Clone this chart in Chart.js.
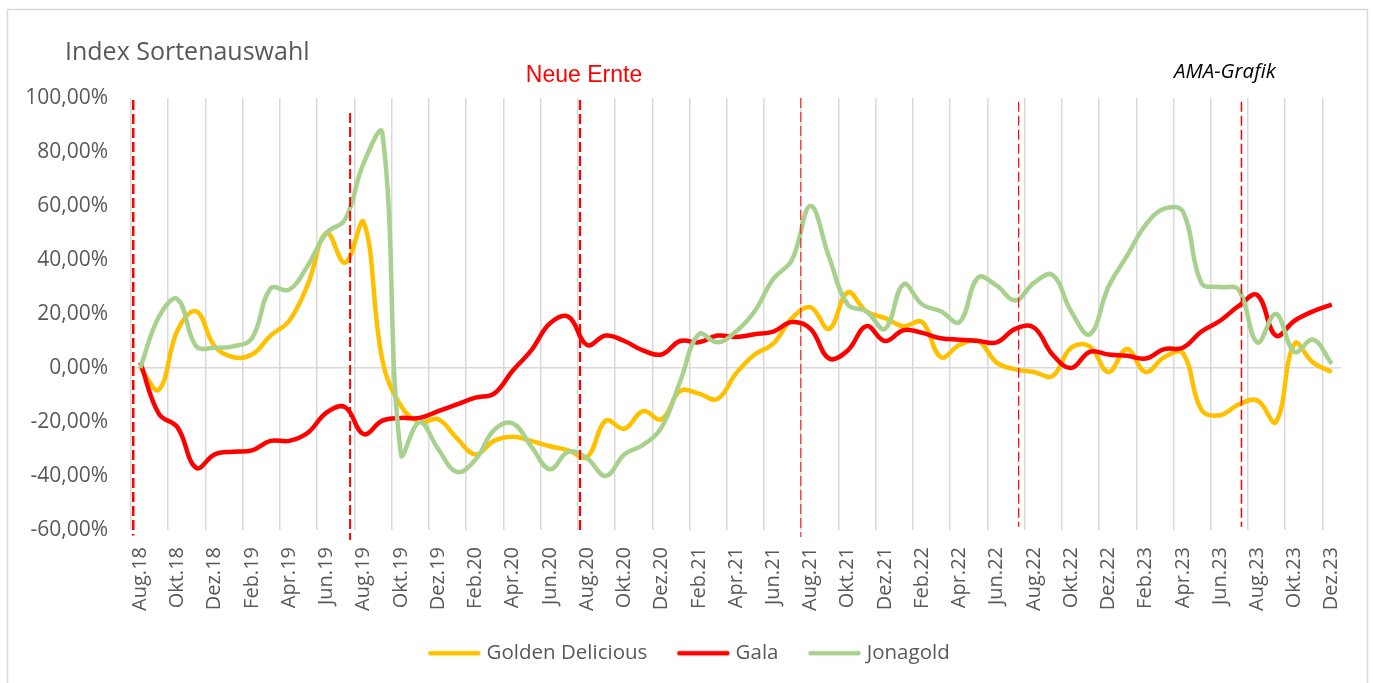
<!DOCTYPE html>
<html lang="de">
<head>
<meta charset="utf-8">
<title>Index Sortenauswahl</title>
<script src="https://cdn.jsdelivr.net/npm/chart.js@4.4.0/dist/chart.umd.min.js"></script>
<style>
  html, body { margin: 0; padding: 0; background: #fff; }
  #wrap { width: 1373px; height: 683px; }
</style>
</head>
<body>
<div id="wrap"><canvas id="sortenChart" width="1373" height="683"></canvas></div>
<script>
// Monate Aug.18 - Dez.23
const categories = [
  'Aug.18', 'Sep.18', 'Okt.18', 'Nov.18', 'Dez.18',
  'Jan.19', 'Feb.19', 'Mär.19', 'Apr.19', 'Mai.19', 'Jun.19', 'Jul.19', 'Aug.19', 'Sep.19', 'Okt.19', 'Nov.19', 'Dez.19',
  'Jan.20', 'Feb.20', 'Mär.20', 'Apr.20', 'Mai.20', 'Jun.20', 'Jul.20', 'Aug.20', 'Sep.20', 'Okt.20', 'Nov.20', 'Dez.20',
  'Jan.21', 'Feb.21', 'Mär.21', 'Apr.21', 'Mai.21', 'Jun.21', 'Jul.21', 'Aug.21', 'Sep.21', 'Okt.21', 'Nov.21', 'Dez.21',
  'Jan.22', 'Feb.22', 'Mär.22', 'Apr.22', 'Mai.22', 'Jun.22', 'Jul.22', 'Aug.22', 'Sep.22', 'Okt.22', 'Nov.22', 'Dez.22',
  'Jan.23', 'Feb.23', 'Mär.23', 'Apr.23', 'Mai.23', 'Jun.23', 'Jul.23', 'Aug.23', 'Sep.23', 'Okt.23', 'Nov.23', 'Dez.23'
];

// Index in Prozent
const goldenDelicious = [
  0, -8, 14, 21, 8,
  4, 5, 12, 17.5, 31, 50, 39, 54, 3, -14, -20, -19,
  -26, -32, -27, -25.5, -27, -29, -30.5, -33, -19.5, -22.5, -16, -19,
  -8.5, -9.5, -11.5, -2, 5, 9, 18.5, 22.5, 14.5, 28, 21, 18.5,
  15.5, 17, 4, 8.5, 10, 2, -0.5, -1.5, -3, 7.5, 8, -1.5,
  7, -1.5, 4, 5.5, -15.5, -17.5, -13.5, -12, -20, 9, 2, -1.5
];
const gala = [
  2, -17, -22, -37, -32,
  -31, -30.5, -27, -27, -24, -16.5, -14.5, -24.5, -19.5, -18.5, -18.5, -16,
  -13.5, -11, -9.5, -1, 6.5, 16.5, 19, 8.5, 12, 10, 6.5, 5,
  10, 9.5, 12, 11.5, 12.5, 13.5, 17, 14.5, 3.5, 6.5, 15.5, 10,
  14, 13, 11, 10.5, 10, 9.5, 14.5, 15, 5, 0, 6, 5,
  4.5, 3.5, 7, 7.5, 13.5, 17.5, 23, 27, 12, 17.5, 21, 23.5
];
const jonagold = [
  0, 19, 25.5, 8, 7.5,
  8, 11, 29.5, 29, 38, 50, 55, 76, 87, -32, -20, -30,
  -38.5, -34, -23, -20.5, -29, -37.5, -31, -33.5, -40, -32, -28.5, -22,
  -5, 12.5, 9.5, 13.5, 21, 33, 40, 60, 41, 23.5, 21, 14.5,
  31, 23.5, 21, 17, 33.5, 30.5, 25, 31.5, 34.5, 21, 12.5, 30,
  41.5, 53, 59, 58, 31.5, 30, 29, 9.5, 20, 6, 10.5, 1.5
];

// Neue Ernte: gestrichelte Linien (Position in Monaten ab Aug.18)
const ernteLinien = [
  { pos: -0.38, top: 99.3, bottom: -62, width: 2.5 },
  { pos: 11.27, top: 94.4, bottom: -63.7, width: 2 },
  { pos: 23.62, top: 99.3, bottom: -61, width: 2.2 },
  { pos: 35.48, top: 100, bottom: -62.6, width: 1 },
  { pos: 47.18, top: 98.6, bottom: -58.8, width: 1.2 },
  { pos: 59.15, top: 98.6, bottom: -58.8, width: 1.5 }
];

const GRAU = '#d9d9d9';
const TEXT = '#595959';

Chart.defaults.font.family = "'Open Sans', sans-serif";
Chart.defaults.color = TEXT;

function legendLine(color) {
  const cv = document.createElement('canvas');
  cv.width = 54;
  cv.height = 8;
  const c = cv.getContext('2d');
  c.strokeStyle = color;
  c.lineWidth = 4.5;
  c.lineCap = 'round';
  c.beginPath();
  c.moveTo(3, 4);
  c.lineTo(51, 4);
  c.stroke();
  return cv;
}

function makeSeries(label, data, color, order) {
  return {
    label: label,
    data: data,
    borderColor: color,
    backgroundColor: color,
    borderWidth: 4.5,
    pointRadius: 0,
    pointHoverRadius: 0,
    pointStyle: legendLine(color),
    tension: 0.4,
    fill: false,
    order: order
  };
}

const extrasPlugin = {
  id: 'extras',
  afterLayout(chart) {
    // Legende etwas nach rechts und oben, wie im Original
    const lg = chart.legend;
    lg.left += 20;
    lg.right += 20;
    lg.top -= 5;
    lg.bottom -= 5;
  },
  beforeDraw(chart) {
    const c = chart.ctx;
    c.save();
    c.fillStyle = '#fff';
    c.fillRect(0, 0, chart.width, chart.height);
    c.strokeStyle = GRAU;
    c.lineWidth = 1.5;
    c.strokeRect(7.5, 9.5, 1360, 700);
    c.restore();
  },
  afterDatasetsDraw(chart) {
    const c = chart.ctx;
    const xs = chart.scales.x;
    const ys = chart.scales.y;
    const x0 = xs.getPixelForValue(0);
    const step = xs.getPixelForValue(1) - x0;
    c.save();
    c.strokeStyle = '#ff0000';
    c.setLineDash([10, 4]);
    ernteLinien.forEach(l => {
      const x = x0 + l.pos * step;
      c.lineWidth = l.width;
      c.beginPath();
      c.moveTo(x, ys.getPixelForValue(l.top));
      c.lineTo(x, ys.getPixelForValue(l.bottom));
      c.stroke();
    });
    c.restore();
  },
  afterDraw(chart) {
    const c = chart.ctx;
    c.save();
    c.textBaseline = 'alphabetic';
    c.fillStyle = TEXT;
    c.textAlign = 'left';
    c.font = "25px 'Open Sans'";
    c.fillText('Index Sortenauswahl', 65, 60);

    c.fillStyle = '#ff0000';
    c.textAlign = 'center';
    c.font = "23px 'Liberation Sans'";
    c.fillText('Neue Ernte', 584, 82);

    c.fillStyle = '#000';
    c.textAlign = 'left';
    c.font = "italic 20.5px 'Open Sans'";
    c.fillText('AMA-Grafik', 1174, 78);
    c.restore();
  }
};

const ctx = document.getElementById('sortenChart').getContext('2d');
const sortenChart = new Chart(ctx, {
  type: 'line',
  data: {
    labels: categories,
    datasets: [
      makeSeries('Golden Delicious', goldenDelicious, '#ffc000', 3),
      makeSeries('Gala', gala, '#ff0000', 2),
      makeSeries('Jonagold', jonagold, '#a9d18e', 1)
    ]
  },
  options: {
    responsive: false,
    animation: false,
    devicePixelRatio: 1,
    layout: {
      padding: { top: 98, left: 0, right: 31, bottom: 4.5 }
    },
    plugins: {
      title: { display: false },
      tooltip: { enabled: false },
      legend: {
        position: 'bottom',
        labels: {
          usePointStyle: true,
          pointStyleWidth: 44,
          padding: 34,
          color: TEXT,
          font: { size: 20.5 },
          sort: (a, b) => a.datasetIndex - b.datasetIndex
        }
      }
    },
    scales: {
      x: {
        type: 'category',
        offset: true,
        border: { display: false },
        grid: {
          offset: true,
          drawTicks: false,
          lineWidth: 1.5,
          color: c => (c.index !== undefined && c.index % 2 === 0) ? GRAU : 'rgba(0,0,0,0)'
        },
        ticks: {
          autoSkip: false,
          minRotation: 90,
          maxRotation: 90,
          padding: 17,
          color: TEXT,
          font: { size: 20 },
          callback: (val, i) => i % 2 === 0 ? categories[i] : ''
        },
        afterFit: s => { s.height = 84; }
      },
      y: {
        min: -60,
        max: 100,
        border: { display: false },
        grid: {
          drawTicks: false,
          lineWidth: 1.5,
          color: c => (c.tick && c.tick.value === 0) ? GRAU : 'rgba(0,0,0,0)'
        },
        ticks: {
          stepSize: 20,
          padding: 23,
          color: TEXT,
          font: { size: 21 },
          callback: v => v.toFixed(2).replace('.', ',') + '%'
        },
        afterFit: s => { s.width = 131; }
      }
    }
  },
  plugins: [extrasPlugin]
});
</script>
</body>
</html>
